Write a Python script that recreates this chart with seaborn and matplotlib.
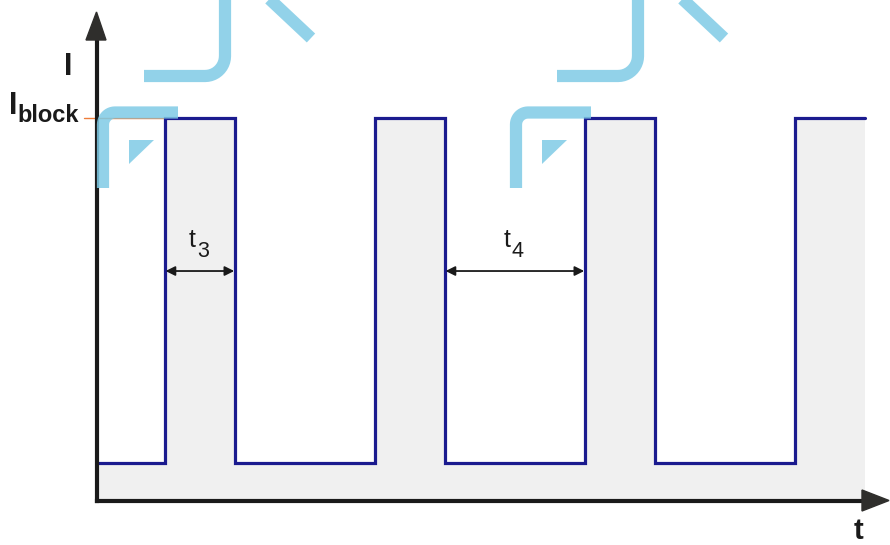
import numpy as np
import matplotlib
matplotlib.use("Agg")
import matplotlib.pyplot as plt
import matplotlib.transforms as mtransforms
import seaborn as sns
import pandas as pd

# ---- data ----
edges = [0, 2, 4, 8, 10, 14, 16, 20, 22]      # switching instants
levels = [1, 10, 1, 10, 1, 10, 1, 10, 10]     # current level after each instant
i_block = 10
t3_span = [2, 4]
t4_span = [10, 14]
dim_level = 6
labels = {"y": "I", "yblock": ("I", "block"), "x": "t", "t3": ("t", "3"), "t4": ("t", "4")}

W, H = 890, 545
sns.set_theme(style="white")
plt.rcParams['font.family'] = ['Liberation Sans', 'DejaVu Sans']

fig = plt.figure(figsize=(W / 100, H / 100), dpi=100)
# axes: left spine at x=97px, bottom spine at y=501px, top at 12px, right at 890px
ax = fig.add_axes([97 / W, (H - 501) / H, (W - 97) / W, (501 - 12) / H])
xl = (0.06, 0.06 + (W - 97) / 35.0)
yl = (0, (501 - 12) / 38.33)
ax.set_xlim(*xl)
ax.set_ylim(*yl)
ax.set_facecolor("white")
fig.patch.set_facecolor("white")

px = mtransforms.Affine2D().scale(1 / W, -1 / H).translate(0, 1) + fig.transFigure

df = pd.DataFrame({"t": edges, "I": levels})
ax.fill_between(df["t"], 0, df["I"], step="post", color="#f0f0f0", lw=0, zorder=1)
# orange I_block marker
ax.plot([-0.3, t3_span[0]], [i_block, i_block], color="#ee7d3a", lw=1.0, clip_on=False, zorder=2)
sns.lineplot(data=df, x="t", y="I", ax=ax, sort=False, estimator=None, drawstyle="steps-post",
             color="#1b1b8f", lw=2.3, zorder=3, solid_joinstyle="miter")

# spines
for s in ["top", "right"]:
    ax.spines[s].set_visible(False)
for s in ["left", "bottom"]:
    ax.spines[s].set_color("#1a1a1a")
    ax.spines[s].set_linewidth(3.0)
    ax.spines[s].set_zorder(4)
ax.spines["left"].set_bounds(0, (501 - 38) / 38.33)
ax.spines["bottom"].set_bounds(xl[0], 0.06 + (864 - 97) / 35.0)
ax.set_xticks([])
ax.set_yticks([])
ax.set_xlabel("")
ax.set_ylabel("")

# arrowheads (pixel coordinates)
ax.add_patch(plt.Polygon([(86, 40), (106, 40), (96.5, 12)], closed=True, color="#2f2e2c",
                         transform=px, clip_on=False, zorder=5))
ax.add_patch(plt.Polygon([(862, 490), (862, 511), (889, 500.5)], closed=True, color="#2f2e2c",
                         transform=px, clip_on=False, zorder=5))

# dimension arrows
for span in (t3_span, t4_span):
    ax.annotate("", xy=(span[0] + 0.02, dim_level), xytext=(span[1] - 0.02, dim_level),
                arrowprops=dict(arrowstyle="<|-|>", color="#1a1a1a", lw=1.3,
                                mutation_scale=14, shrinkA=0, shrinkB=0), zorder=4)
for span, key in ((t3_span, "t3"), (t4_span, "t4")):
    c = (span[0] + span[1]) / 2
    ax.text(c - 0.12, 6.63, labels[key][0], fontsize=18, ha="right", va="baseline", color="#1a1a1a")
    ax.text(c - 0.09, 6.37, labels[key][1], fontsize=15.5, ha="left", va="baseline", color="#1a1a1a")

# axis labels (pixel positions)
fig.text(68 / W, 1 - 75 / H, labels["y"], fontsize=22, fontweight="bold", ha="center",
         va="baseline", color="#1a1a1a")
fig.text(13.5 / W, 1 - 114 / H, labels["yblock"][0], fontsize=22, fontweight="bold", ha="center",
         va="baseline", color="#1a1a1a")
fig.text(17 / W, 1 - 122 / H, labels["yblock"][1], fontsize=17, fontweight="bold", ha="left",
         va="baseline", color="#1a1a1a")
fig.text(858 / W, 1 - 539 / H, labels["x"], fontsize=21, fontweight="bold", ha="center",
         va="baseline", color="#1a1a1a")

# watermark logo (decoration, pixel coordinates)
wm_color = "#7fcbe6"
for off in (0, 413):
    th = np.radians(np.linspace(0, 90, 12))
    b_pts = [(225, -6)] + [(205 + 20 * np.cos(a), 56 + 20 * np.sin(a)) for a in th] + [(144, 76)]
    th2 = np.radians(np.linspace(270, 180, 12))
    c_pts = [(178, 112.5)] + [(115 + 12 * np.cos(a), 124.5 + 12 * np.sin(a)) for a in th2] + [(103, 188)]
    a_pts = [(262, -8), (311, 38)]
    for pts in (a_pts, b_pts, c_pts):
        xs = [p[0] + off for p in pts]
        ys = [p[1] for p in pts]
        ln = plt.Line2D(xs, ys, transform=px, color=wm_color, lw=8.8, alpha=0.85,
                        solid_capstyle="butt", solid_joinstyle="round", zorder=10)
        fig.add_artist(ln)
    tri = plt.Polygon([(129 + off, 140), (154 + off, 140), (129 + off, 164)], closed=True,
                      transform=px, color=wm_color, alpha=0.85, lw=0, zorder=10)
    fig.add_artist(tri)

fig.savefig("out.png", dpi=100)
